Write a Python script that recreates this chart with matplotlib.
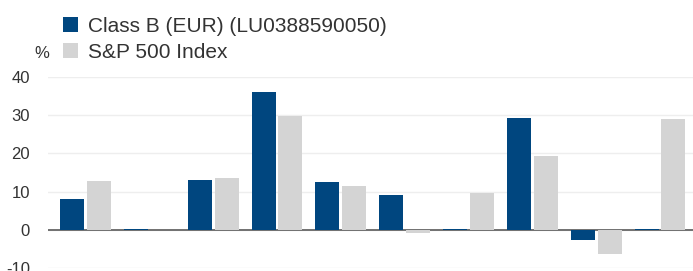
import matplotlib.pyplot as plt
import numpy as np

# Data
years = np.arange(10)  # unlabeled yearly periods
fund_returns = [8.0, 0.3, 13.1, 36.2, 12.5, 9.1, 0.3, 29.3, -2.7, 0.3]
index_returns = [12.8, 0.0, 13.6, 29.8, 11.4, -0.8, 9.6, 19.4, -6.3, 29.0]
series_names = ['Class B (EUR) (LU0388590050)', 'S&P 500 Index']
yticks = [-10, 0, 10, 20, 30, 40]

plt.rcParams['font.family'] = ['Liberation Sans', 'DejaVu Sans']

navy = '#00467F'
grey = '#D4D4D4'
width = 0.376
offset = 0.21

fig = plt.figure(figsize=(6.93, 2.71), dpi=100)
ax = fig.add_axes([48 / 693, 1 - 268 / 271, 1 - 48 / 693, (268 - 77) / 271])

b1 = ax.bar(years - offset, fund_returns, width, color=navy, label=series_names[0], zorder=3)
b2 = ax.bar(years + offset, index_returns, width, color=grey, label=series_names[1], zorder=3)

ax.set_xlim(-0.588, 9.517)
ax.set_ylim(-10.05, 40.05)
ax.set_yticks(yticks)
ax.set_yticklabels([str(t) for t in yticks])
ax.set_xticks([])
ax.grid(axis='y', color='#eeeeee', linewidth=1, zorder=0)
ax.axhline(0, color='#666666', linewidth=1.3, zorder=2)
for s in ax.spines.values():
    s.set_visible(False)
ax.tick_params(axis='y', length=0, labelsize=12, labelcolor='#333333', pad=13)

fig.text(34 / 693, 1 - 53 / 271, '%', fontsize=12, color='#333333', va='center')

fig.legend(handles=[b1, b2], loc='upper left', bbox_to_anchor=(48 / 693, 1 - 2 / 271),
           frameon=False, fontsize=15, handlelength=0.75, handleheight=0.75,
           handletextpad=0.45, labelspacing=0.34, labelcolor='#333333',
           borderpad=0.2)

fig.savefig('out.png', dpi=100)
